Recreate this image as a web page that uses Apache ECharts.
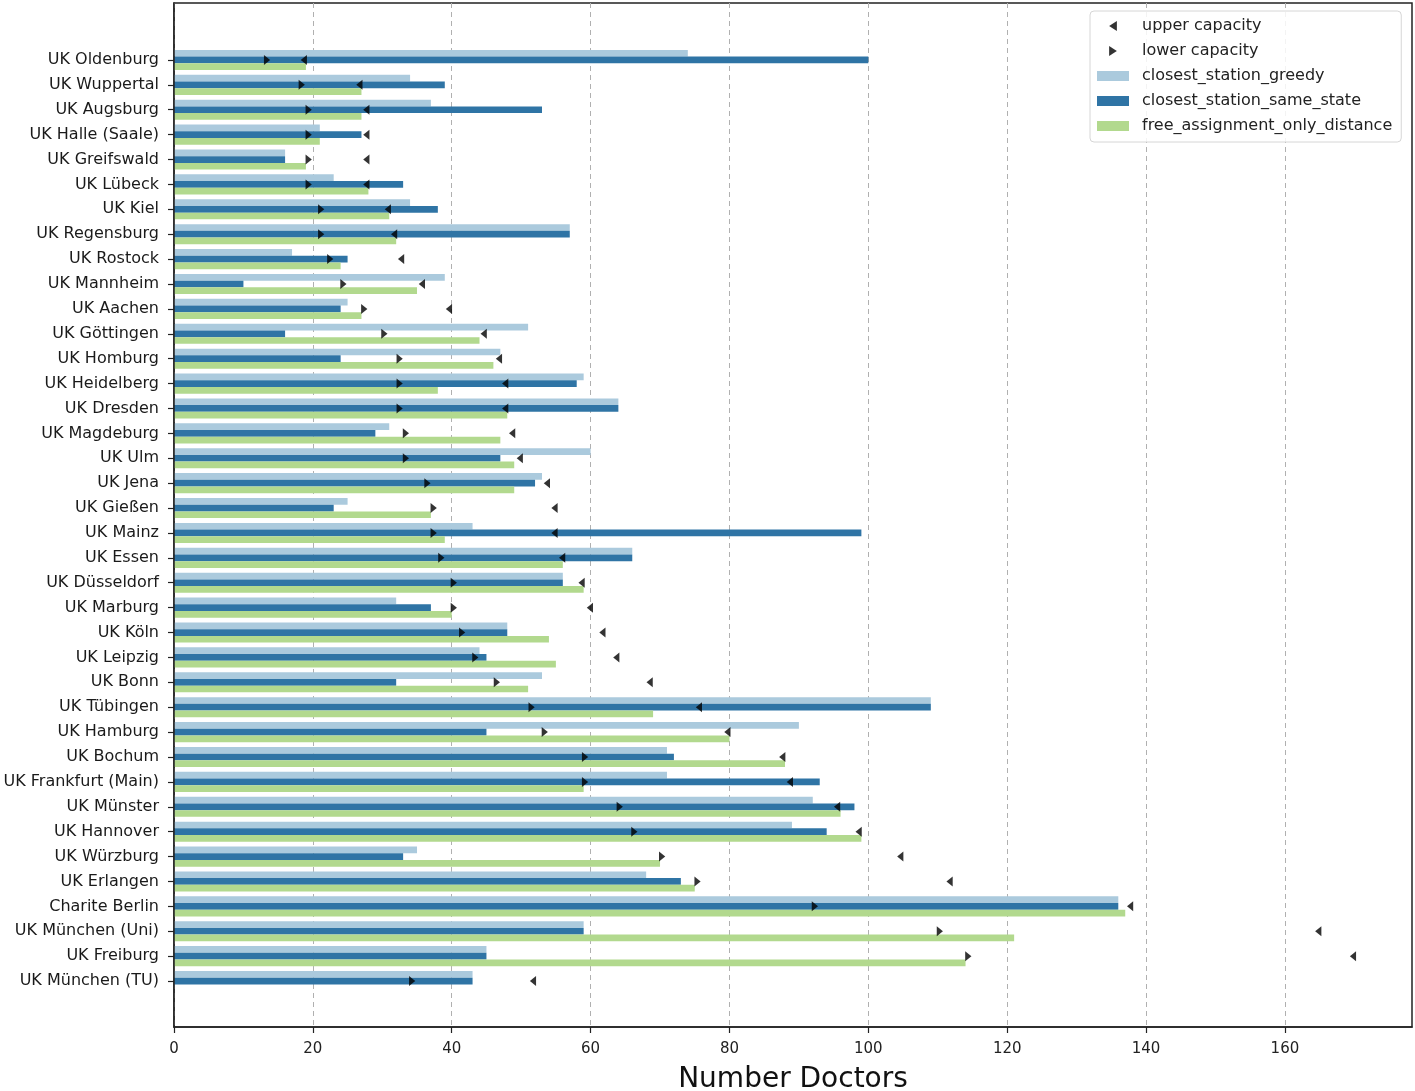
<!DOCTYPE html>
<html>
<head>
<meta charset="UTF-8">
<title>Number Doctors</title>
<script type="text/javascript" src="https://cdn.jsdelivr.net/npm/echarts@6/dist/echarts.min.js"></script>
<style>
	body{margin:0;background:#fff;}
</style>
</head>
<body>
	<div id="show" style="width:1415px;height:1091px"></div>
	<script type="text/javascript">
		var categories=['UK Oldenburg','UK Wuppertal','UK Augsburg','UK Halle (Saale)','UK Greifswald','UK Lübeck','UK Kiel','UK Regensburg','UK Rostock','UK Mannheim','UK Aachen','UK Göttingen','UK Homburg','UK Heidelberg','UK Dresden','UK Magdeburg','UK Ulm','UK Jena','UK Gießen','UK Mainz','UK Essen','UK Düsseldorf','UK Marburg','UK Köln','UK Leipzig','UK Bonn','UK Tübingen','UK Hamburg','UK Bochum','UK Frankfurt (Main)','UK Münster','UK Hannover','UK Würzburg','UK Erlangen','Charite Berlin','UK München (Uni)','UK Freiburg','UK München (TU)'];
		var greedy=[74,34,37,21,16,23,34,57,17,39,25,51,47,59,64,31,60,53,25,43,66,56,32,48,44,53,109,90,71,71,92,89,35,68,136,59,45,43];
		var sameState=[100,39,53,27,16,33,38,57,25,10,24,16,24,58,64,29,47,52,23,99,66,56,37,48,45,32,109,45,72,93,98,94,33,73,136,59,45,43];
		var freeDistance=[19,27,27,21,19,28,31,32,24,35,27,44,46,38,48,47,49,49,37,39,56,59,40,54,55,51,69,80,88,59,96,99,70,75,137,121,114,0];
		var lowerCap=[13.4,18.4,19.4,19.4,19.4,19.4,21.2,21.2,22.5,24.4,27.4,30.3,32.5,32.5,32.5,33.4,33.4,36.5,37.4,37.4,38.5,40.3,40.3,41.5,43.4,46.5,51.5,53.4,59.2,59.2,64.2,66.3,70.3,75.4,92.3,110.3,114.4,34.3];
		var upperCap=[18.7,26.7,27.7,27.7,27.7,27.7,30.8,31.7,32.7,35.7,39.6,44.6,46.8,47.7,47.7,48.7,49.8,53.7,54.8,54.8,55.9,58.7,59.9,61.7,63.7,68.5,75.6,79.7,87.6,88.7,95.5,98.6,104.6,111.7,137.7,164.8,169.8,51.7];
		var xTicks=[0,20,40,60,80,100,120,140,160];

		var xMax=178.3;
		var font='DejaVu Sans';
		var leftTri='path://M0,4.5 L7,0 L7,9 Z';
		var rightTri='path://M0,0 L7,4.5 L0,9 Z';

		function capPoints(arr){
			var out=[];
			for(var i=0;i<arr.length;i++){
				out.push([arr[i],i]);
			}
			return out;
		}

		var myCharts=echarts.init(document.getElementById('show'));
		myCharts.setOption({
			animation:false,
			backgroundColor:'#fff',
			grid:[
				{left:174,right:3,top:47.5,bottom:97.5,outerBoundsMode:'none'},
				{left:174,right:3,top:3,bottom:64,outerBoundsMode:'none',show:true,borderColor:'#222',borderWidth:1.5}
			],
			legend:{
				orient:'vertical',
				left:1090,
				top:11,
				padding:[7,9,8,7],
				itemWidth:32,
				itemHeight:10,
				itemGap:9,
				backgroundColor:'rgba(255,255,255,0.85)',
				borderColor:'#d6d6d6',
				borderWidth:1,
				borderRadius:4,
				data:[
					{name:'upper capacity',icon:leftTri},
					{name:'lower capacity',icon:rightTri},
					{name:'closest_station_greedy',icon:'rect'},
					{name:'closest_station_same_state',icon:'rect'},
					{name:'free_assignment_only_distance',icon:'rect'}
				],
				formatter:'{a|{name}}',
				textStyle:{
					fontFamily:font,
					fontSize:16,
					color:'#222',
					rich:{a:{fontFamily:font,fontSize:16,lineHeight:16,color:'#222',padding:[0,0,0,8]}}
				}
			},
			xAxis:[
				{
					type:'value',gridIndex:0,min:0,max:xMax,interval:20,
					show:false
				},
				{
					type:'value',gridIndex:1,min:0,max:xMax,interval:20,
					axisLine:{show:true,lineStyle:{color:'#222',width:1.5}},
					axisTick:{show:true,length:6,lineStyle:{color:'#222',width:1.2}},
					axisLabel:{
						fontFamily:font,fontSize:15,color:'#222',margin:15,
						showMaxLabel:false,
						formatter:function(v){return xTicks.indexOf(v)>=0?String(v):'';}
					},
					splitLine:{show:true,showMaxLine:false,lineStyle:{color:'#b0b0b0',type:[5,4],width:1}},
					name:'Number Doctors',
					nameLocation:'middle',
					nameGap:39,
					nameMoveOverlap:false,
					nameTextStyle:{fontFamily:font,fontSize:28,color:'#111'}
				}
			],
			yAxis:[
				{
					type:'category',gridIndex:0,inverse:true,data:categories,
					axisLine:{show:false},
					axisTick:{show:true,alignWithLabel:true,length:6,lineStyle:{color:'#222',width:1.2}},
					axisLabel:{fontFamily:font,fontSize:16,color:'#1a1a1a',margin:15,interval:0},
					splitLine:{show:false}
				},
				{
					type:'value',gridIndex:1,min:0,max:1,
					z:5,
					axisLine:{show:true,lineStyle:{color:'#222',width:1.5}},
					axisTick:{show:false},
					axisLabel:{show:false},
					splitLine:{show:false}
				}
			],
			series:[
				{
					name:'closest_station_greedy',
					type:'bar',
					xAxisIndex:0,yAxisIndex:0,
					barWidth:6.7,
					barGap:'0%',
					itemStyle:{color:'#abcadd'},
					data:greedy
				},
				{
					name:'closest_station_same_state',
					type:'bar',
					xAxisIndex:0,yAxisIndex:0,
					barWidth:6.7,
					barGap:'0%',
					itemStyle:{color:'#2f74a5'},
					data:sameState
				},
				{
					name:'free_assignment_only_distance',
					type:'bar',
					xAxisIndex:0,yAxisIndex:0,
					barWidth:6.7,
					barGap:'0%',
					itemStyle:{color:'#b2d98e'},
					data:freeDistance
				},
				{
					name:'upper capacity',
					type:'scatter',
					xAxisIndex:0,yAxisIndex:0,
					symbol:leftTri,
					symbolSize:[8,10],
					symbolKeepAspect:true,
					itemStyle:{color:'#000'},
					z:4,
					data:capPoints(upperCap)
				},
				{
					name:'lower capacity',
					type:'scatter',
					xAxisIndex:0,yAxisIndex:0,
					symbol:rightTri,
					symbolSize:[8,10],
					symbolKeepAspect:true,
					itemStyle:{color:'#000'},
					z:4,
					data:capPoints(lowerCap)
				}
			]
		});
	</script>
</body>
</html>
